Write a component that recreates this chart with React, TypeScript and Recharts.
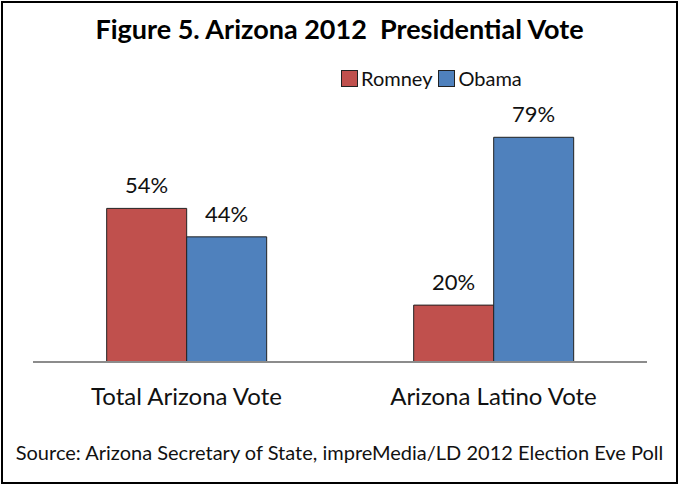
import { Bar, BarChart, LabelList, XAxis, YAxis } from "recharts";

const categories = ["Total Arizona Vote", "Arizona Latino Vote"];
const romney = [54, 20];
const obama = [44, 79];

const data = categories.map((name, i) => ({
  name,
  romney: romney[i],
  obama: obama[i],
}));

const RED = "#C0504D";
const BLUE = "#4F81BD";
const FONT = "Lato, 'Open Sans', sans-serif";

const pct = (v: unknown) => `${v}%`;

function LegendBox() {
  const item = (color: string, label: string) => (
    <span style={{ display: "inline-flex", alignItems: "center", marginRight: 6 }}>
      <span
        style={{
          width: 15,
          height: 15,
          background: color,
          border: "1px solid #222",
          marginRight: 3,
          display: "inline-block",
        }}
      />
      {label}
    </span>
  );
  return (
    <div
      style={{
        position: "absolute",
        top: 66,
        left: 341,
        fontFamily: FONT,
        fontSize: 20,
        color: "#111",
        whiteSpace: "nowrap",
      }}
    >
      {item(RED, "Romney")}
      {item(BLUE, "Obama")}
    </div>
  );
}

export default function App() {
  return (
    <div style={{ position: "absolute", top: 0, left: 0, width: 679, height: 485, background: "#fff" }}>
      <div
        style={{
          position: "absolute",
          top: 1,
          left: 1,
          width: 677,
          height: 483,
          border: "2px solid #000",
          boxSizing: "border-box",
        }}
      />
      <div
        style={{
          position: "absolute",
          top: 12,
          left: 0,
          width: 679,
          textAlign: "center",
          fontFamily: FONT,
          fontWeight: 700,
          fontSize: 27,
          color: "#000",
          whiteSpace: "pre",
        }}
      >
        {"Figure 5. Arizona 2012  Presidential Vote"}
      </div>
      <LegendBox />
      <div style={{ position: "absolute", top: 0, left: 0 }}>
        <BarChart
          width={679}
          height={485}
          data={data}
          margin={{ top: 106, right: 32, bottom: 93, left: 33 }}
          barCategoryGap="24%"
          barGap={0}
        >
          <XAxis
            dataKey="name"
            tickLine={false}
            axisLine={{ stroke: "#8c8c8c", strokeWidth: 2 }}
            tickMargin={20}
            tick={{ fontFamily: FONT, fontSize: 24, fill: "#111" }}
            interval={0}
          />
          <YAxis hide domain={[0, 90]} />
          <Bar dataKey="romney" fill={RED} stroke="#222" strokeWidth={1} isAnimationActive={false}>
            <LabelList
              dataKey="romney"
              position="top"
              offset={15}
              formatter={pct}
              style={{ fontFamily: FONT, fontSize: 22, fill: "#111" }}
            />
          </Bar>
          <Bar dataKey="obama" fill={BLUE} stroke="#222" strokeWidth={1} isAnimationActive={false}>
            <LabelList
              dataKey="obama"
              position="top"
              offset={15}
              formatter={pct}
              style={{ fontFamily: FONT, fontSize: 22, fill: "#111" }}
            />
          </Bar>
        </BarChart>
      </div>
      <div
        style={{
          position: "absolute",
          top: 440,
          left: 0,
          width: 679,
          textAlign: "center",
          fontFamily: FONT,
          fontSize: 20,
          color: "#111",
          whiteSpace: "nowrap",
        }}
      >
        Source: Arizona Secretary of State, impreMedia/LD 2012 Election Eve Poll
      </div>
    </div>
  );
}
